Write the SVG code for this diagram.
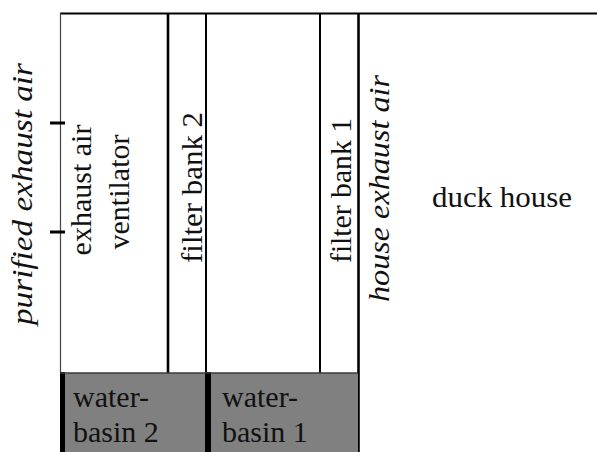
<svg xmlns="http://www.w3.org/2000/svg" width="597" height="452" viewBox="0 0 597 452">
<style>
text{font-family:'Liberation Serif',Tinos,'Times New Roman',Times,'Noto Serif','DejaVu Serif','Nimbus Roman','FreeSerif',Georgia,serif;font-size:30px;fill:#111}
.it{font-style:italic}
.rot{text-anchor:middle}
.wall{stroke:#000;fill:none}
.basin{fill:#808080}
</style>
<rect width="597" height="452" fill="#fff"/>
<g id="walls">
  <line class="wall" x1="60" y1="13.5" x2="597" y2="13.5" stroke-width="2"/>
  <line x1="60.5" y1="13" x2="60.5" y2="373" stroke="#444" stroke-width="1.2"/>
  <line class="wall" x1="168" y1="13" x2="168" y2="373" stroke-width="2.6"/>
  <line class="wall" x1="206" y1="13" x2="206" y2="373" stroke-width="2"/>
  <line class="wall" x1="320" y1="13" x2="320" y2="373" stroke-width="2"/>
  <line class="wall" x1="358.5" y1="13" x2="358.5" y2="452" stroke-width="2.6"/>
</g>
<g id="basin2">
  <rect class="basin" x="60" y="373" width="147" height="79"/>
  <rect x="60" y="372" width="5" height="80" fill="#000"/>
  <text x="73" y="407">water-</text>
  <text x="73" y="442">basin 2</text>
</g>
<g id="basin1">
  <rect class="basin" x="207" y="373" width="151" height="79"/>
  <rect x="205" y="372" width="6" height="80" fill="#000"/>
  <text x="222" y="407">water-</text>
  <text x="222" y="442">basin 1</text>
</g>
<line x1="60" y1="373" x2="358" y2="373" stroke="#3a3a3a" stroke-width="1.5"/>
<g id="ventilator">
  <text class="rot" transform="translate(91,190) rotate(-90)">exhaust air</text>
  <text class="rot" transform="translate(129,192) rotate(-90)">ventilator</text>
</g>
<g id="filter2">
  <text class="rot" transform="translate(202,187.5) rotate(-90)" textLength="151" lengthAdjust="spacingAndGlyphs">filter bank 2</text>
</g>
<g id="filter1">
  <text class="rot" transform="translate(351,190.5) rotate(-90)" textLength="145" lengthAdjust="spacingAndGlyphs">filter bank 1</text>
</g>
<g id="house">
  <text x="432" y="207" textLength="140" lengthAdjust="spacingAndGlyphs">duck house</text>
</g>
<g id="connectors">
  <text class="rot it" transform="translate(389,188.5) rotate(-90)" textLength="227" lengthAdjust="spacingAndGlyphs">house exhaust air</text>
  <text class="rot it" transform="translate(32,194) rotate(-90)" textLength="262" lengthAdjust="spacingAndGlyphs">purified exhaust air</text>
  <line x1="50" y1="123" x2="65" y2="123" stroke="#000" stroke-width="3"/>
  <line x1="50" y1="232" x2="65" y2="232" stroke="#000" stroke-width="3"/>
</g>
</svg>
